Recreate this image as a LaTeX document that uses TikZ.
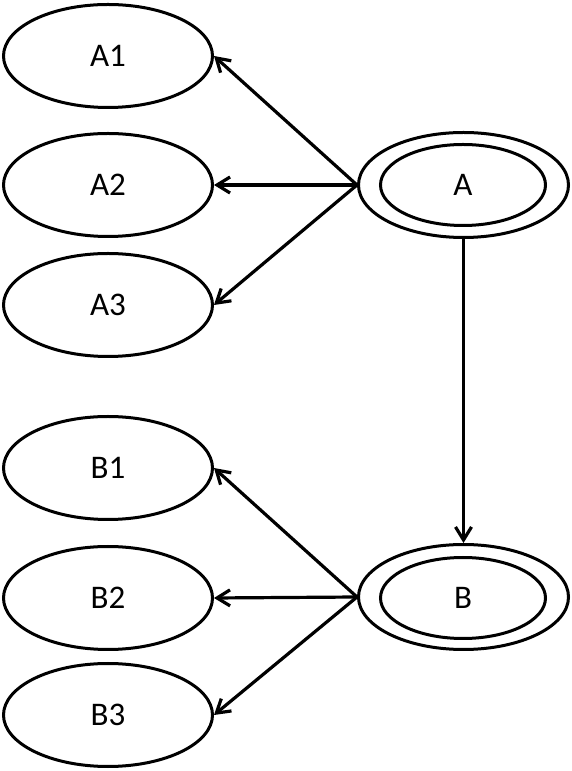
\documentclass[tikz,border=0pt]{standalone}
\usepackage{fontspec}
\setmainfont{Carlito}
\usetikzlibrary{shapes.geometric,arrows.meta}
\begin{document}
\begin{tikzpicture}[x=1pt,y=1pt,
  state/.style={draw,ellipse,line width=3pt,inner sep=0pt,minimum width=209pt,minimum height=103pt,font=\fontsize{33}{40}\selectfont},
  outerst/.style={draw,ellipse,line width=3pt,inner sep=0pt,minimum width=210pt,minimum height=105pt},
  innerst/.style={draw,ellipse,line width=3pt,inner sep=0pt,minimum width=165pt,minimum height=81pt,font=\fontsize{33}{40}\selectfont},
  conn/.style={line width=3.2pt,-{Straight Barb[length=13pt,width=16pt,line width=3.2pt]}}]
\useasboundingbox (0,0) rectangle (571,771);
\node[state] (A1) at (108,715) {A1};
\node[state] (A2) at (108,586) {A2};
\node[state] (A3) at (108,466) {A3};
\node[state] (B1) at (108,303) {B1};
\node[state] (B2) at (108,173) {B2};
\node[state] (B3) at (108,56) {B3};
\node[outerst] (Aout) at (463.5,586) {};
\node[innerst] (A) at (463,586) {A};
\node[outerst] (Bout) at (463.5,174) {};
\node[innerst] (B) at (463,173) {B};
\draw[conn] (Aout.west) -- (A1.east);
\draw[conn] (Aout.west) -- (A2.east);
\draw[conn] (Aout.west) -- (A3.east);
\draw[conn] (Aout.south) -- (Bout.north);
\draw[conn] (Bout.west) -- (B1.east);
\draw[conn] (Bout.west) -- (B2.east);
\draw[conn] (Bout.west) -- (B3.east);
\end{tikzpicture}
\end{document}
